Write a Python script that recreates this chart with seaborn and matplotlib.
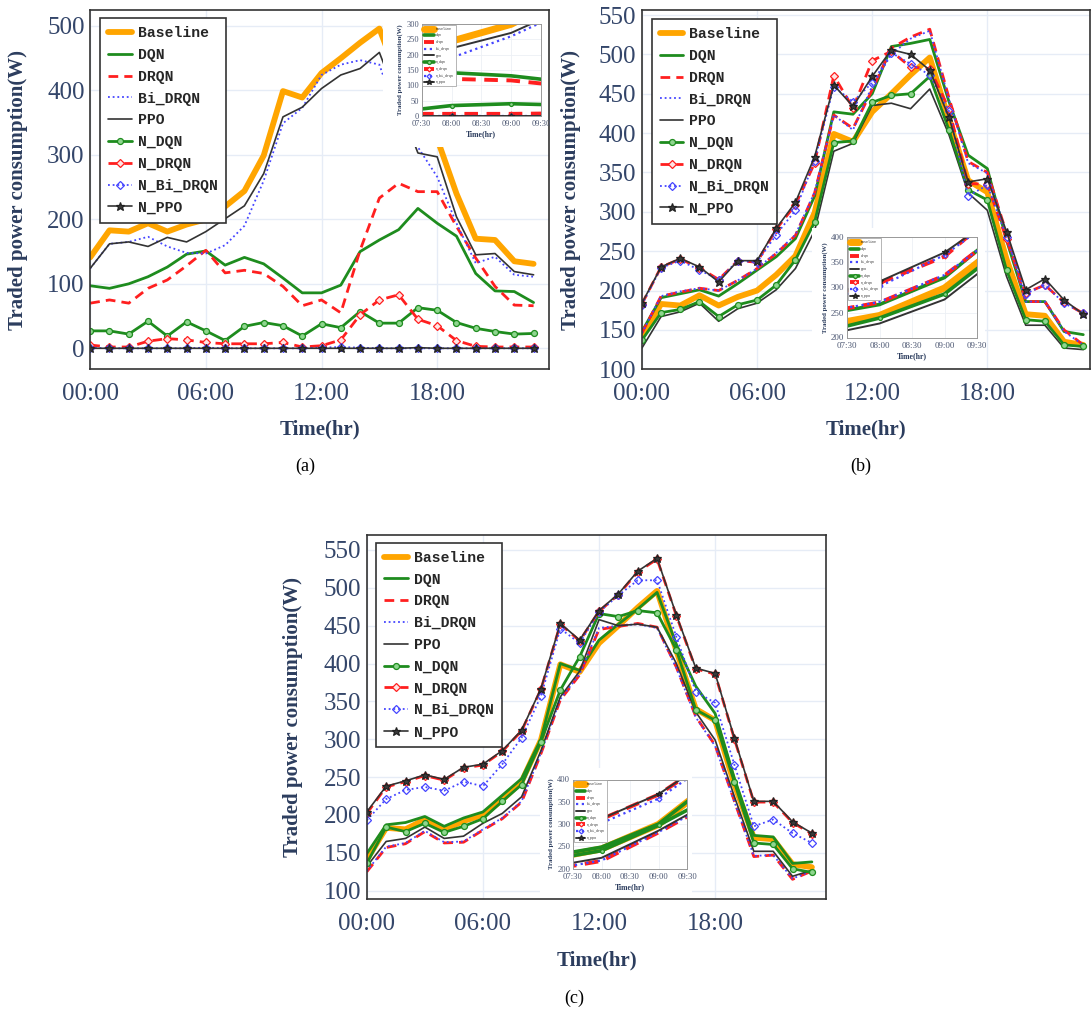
import matplotlib
matplotlib.use("Agg")
import matplotlib.pyplot as plt
import seaborn as sns
from matplotlib.patches import Rectangle
from matplotlib.font_manager import FontProperties

# ---------------- data ----------------
HOURS = list(range(24))
X_TICKS = [0, 6, 12, 18]
X_TICK_LABELS = ["00:00", "06:00", "12:00", "18:00"]
INSET_TICKS = [7.5, 8, 8.5, 9, 9.5]
INSET_TICK_LABELS = ["07:30", "08:00", "08:30", "09:00", "09:30"]
SERIES = ["Baseline", "DQN", "DRQN", "Bi_DRQN", "PPO", "N_DQN", "N_DRQN", "N_Bi_DRQN", "N_PPO"]
INSET_LABELS = ["Baseline", "dqn", "drqn", "bi_drqn", "ppo", "n_dqn", "n_drqn", "n_bi_drqn", "n_ppo"]

BASELINE = [141, 183, 181, 194, 181, 192, 200, 220, 244, 299, 399, 389, 427, 450, 474, 496, 417, 340, 325, 240, 170, 168, 135, 131]

# panel (a)
A_DQN = [97, 93, 100, 111, 126, 146, 151, 129, 141, 131, 109, 86, 86, 98, 150, 168, 184, 217, 194, 174, 116, 89, 88, 71]
A_DRQN = [70, 75, 70, 93, 106, 128, 152, 117, 121, 116, 96, 66, 75, 55, 152, 233, 256, 243, 243, 189, 140, 96, 67, 66]
A_BI_DRQN = [124, 162, 165, 173, 158, 148, 147, 160, 190, 260, 349, 373, 424, 440, 447, 440, 355, 312, 266, 194, 132, 142, 114, 111]
A_PPO = [124, 162, 165, 158, 172, 165, 181, 201, 221, 271, 359, 374, 403, 424, 434, 459, 381, 303, 297, 204, 145, 147, 119, 114]
A_N_DQN = [27, 27, 22, 42, 19, 41, 27, 12, 34, 40, 35, 19, 38, 32, 57, 39, 39, 63, 59, 40, 31, 26, 22, 23]
A_N_DRQN = [5, 2, 2, 11, 15, 13, 9, 7, 7, 7, 9, 2, 4, 13, 52, 75, 83, 45, 35, 12, 3, 2, 2, 2]
A_N_BI_DRQN = [1, 0, 0, 0, 0, 0, 1, 0, 0, 0, 0, 0, 1, 2, 1, 0, 0, 0, 0, 0, 0, 0, 0, 0]
A_N_PPO = [0, 0, 0, 0, 0, 0, 0, 0, 0, 0, 0, 0, 0, 0, 0, 0, 0, 1, 0, 0, 0, 0, 0, 0]

# panel (b)
B_DQN = [148, 191, 196, 201, 193, 209, 226, 243, 266, 320, 427, 424, 450, 510, 514, 519, 440, 372, 355, 264, 186, 186, 148, 144]
B_DRQN = [146, 193, 198, 203, 200, 213, 228, 247, 270, 324, 423, 406, 455, 508, 522, 532, 445, 364, 350, 273, 186, 186, 150, 131]
B_BI_DRQN = [146, 193, 199, 203, 200, 213, 228, 248, 271, 325, 423, 404, 460, 500, 520, 530, 443, 362, 349, 272, 186, 186, 148, 131]
B_PPO = [127, 167, 173, 184, 161, 177, 184, 201, 228, 276, 377, 387, 435, 438, 431, 456, 398, 324, 302, 218, 156, 156, 127, 125]
B_N_DQN = [137, 172, 176, 186, 167, 182, 188, 207, 239, 287, 388, 390, 439, 448, 450, 472, 404, 328, 315, 226, 163, 161, 131, 129]
B_N_DRQN = [183, 230, 240, 229, 214, 238, 236, 278, 309, 362, 473, 432, 492, 504, 484, 482, 431, 336, 335, 265, 197, 207, 185, 171]
B_N_BI_DRQN = [182, 229, 238, 226, 214, 238, 236, 271, 302, 365, 459, 440, 464, 502, 488, 474, 428, 320, 334, 268, 196, 207, 184, 171]
B_N_PPO = [184, 230, 241, 230, 211, 238, 238, 279, 312, 370, 461, 434, 472, 506, 500, 480, 420, 338, 342, 275, 201, 215, 188, 170]

# panel (c)
C_DQN = [149, 187, 190, 198, 185, 196, 204, 226, 248, 300, 400, 391, 431, 452, 472, 494, 425, 370, 334, 248, 173, 171, 136, 138]
C_DRQN = [125, 157, 162, 178, 163, 164, 180, 195, 217, 281, 352, 385, 445, 449, 453, 448, 395, 330, 292, 218, 145, 147, 115, 126]
C_BI_DRQN = [126, 158, 163, 179, 164, 165, 181, 196, 218, 282, 353, 386, 447, 450, 452, 447, 394, 329, 291, 217, 146, 147, 116, 126]
C_PPO = [132, 165, 169, 184, 169, 172, 189, 202, 224, 285, 356, 390, 458, 450, 452, 448, 400, 336, 299, 224, 152, 152, 119, 127]
C_N_DQN = [136, 184, 178, 189, 177, 185, 195, 218, 240, 297, 365, 409, 466, 462, 470, 467, 418, 339, 325, 243, 163, 161, 129, 124]
C_N_DRQN = [202, 237, 244, 252, 246, 262, 266, 284, 311, 366, 452, 430, 469, 491, 521, 538, 463, 393, 386, 300, 217, 217, 190, 175]
C_N_BI_DRQN = [193, 221, 233, 237, 232, 244, 238, 267, 302, 357, 446, 427, 468, 490, 510, 510, 435, 363, 348, 266, 185, 194, 176, 163]
C_N_PPO = [204, 238, 245, 253, 247, 263, 267, 285, 312, 367, 453, 431, 470, 492, 522, 539, 464, 394, 387, 301, 218, 218, 191, 176]

A_Y_TICKS = [0, 100, 200, 300, 400, 500]
BC_Y_TICKS = [100, 150, 200, 250, 300, 350, 400, 450, 500, 550]
A_INSET_Y_TICKS = [0, 50, 100, 150, 200, 250, 300]
BC_INSET_Y_TICKS = [200, 250, 300, 350, 400]

# ---------------- style ----------------
sns.set_theme(style="white")
plt.rcParams["font.family"] = ["Liberation Serif", "DejaVu Serif"]

W, H = 1091, 1017
TICK_COLOR = "#34466a"
LABEL_COLOR = "#2c3d5e"
GRID_COLOR = "#e6ecf6"
GREEN = "#1e8c1e"
RED = "#ff1f1f"
BLUE = "#4545ff"
DARK = "#333333"

STYLE = {
    "Baseline": dict(color="#FFA500", lw=4.2, ils=5.0, ls="-"),
    "DQN": dict(color=GREEN, lw=2.0, ils=2.6, ls="-"),
    "DRQN": dict(color=RED, lw=2.0, ils=2.8, ls=(0, (3.5, 2.2))),
    "Bi_DRQN": dict(color=BLUE, lw=1.3, ils=1.6, ls=(0, (1, 1.6))),
    "PPO": dict(color=DARK, lw=1.2, ils=1.4, ls="-"),
    "N_DQN": dict(color=GREEN, lw=2.0, ils=2.6, ls="-", marker="o", ms=4.3, mfc="#8fd68f", mec=GREEN),
    "N_DRQN": dict(color=RED, lw=2.0, ils=2.8, ls=(0, (3.5, 2.2)), marker="D", ms=3.8, mfc="#ffe4e4", mec=RED),
    "N_Bi_DRQN": dict(color=BLUE, lw=1.3, ils=1.6, ls=(0, (1, 1.6)), marker="D", ms=3.8, mfc="none", mec=BLUE),
    "N_PPO": dict(color=DARK, lw=1.2, ils=1.4, ls="-", marker="*", ms=6.3, mfc="#3a3a3a", mec="#222222"),
}

fig = plt.figure(figsize=(W / 100, H / 100), dpi=100)


def fr(l, t, r, b):
    return [l / W, 1 - b / H, (r - l) / W, (b - t) / H]


def draw_lines(ax, series_values, labels, inset=False):
    for name, label, vals in zip(SERIES, labels, series_values):
        st = STYLE[name]
        kw = dict(color=st["color"], linewidth=st["ils"] if inset else st["lw"], linestyle=st["ls"])
        if "marker" in st:
            kw.update(marker=st["marker"], markersize=st["ms"] * (0.65 if inset else 1.0),
                      markerfacecolor=st["mfc"], markeredgecolor=st["mec"], markeredgewidth=0.9)
        sns.lineplot(x=HOURS, y=vals, ax=ax, label=label, errorbar=None, sort=False, **kw)


def panel(series_values, box, xmax, ylim, yticks, ylab_x, legend_box, inset_box, inset_ylim,
          inset_yticks, white_box, inset_fs, letter, letter_xy):
    ax = fig.add_axes(fr(*box))
    draw_lines(ax, series_values, SERIES)
    ax.set_xlim(0, xmax)
    ax.set_ylim(*ylim)
    ax.set_xticks(X_TICKS)
    ax.set_xticklabels(X_TICK_LABELS)
    ax.set_yticks(yticks)
    ax.tick_params(axis="both", length=0, labelsize=18, colors=TICK_COLOR)
    ax.tick_params(axis="x", pad=10)
    ax.tick_params(axis="y", pad=4)
    ax.grid(True, color=GRID_COLOR, linewidth=1.0)
    ax.set_axisbelow(True)
    for sp in ax.spines.values():
        sp.set_visible(True)
        sp.set_color("#333333")
        sp.set_linewidth(1.2)
    ax.set_xlabel("Time(hr)", fontsize=15, fontweight="bold", color=LABEL_COLOR)
    ax.set_ylabel("Traded power consumption(W)", fontsize=15, fontweight="bold", color=LABEL_COLOR)
    ax.yaxis.set_label_coords(ylab_x, 0.5)
    ax.xaxis.set_label_coords(0.5, -0.14)

    handles, labels = ax.get_legend_handles_labels()
    leg = ax.legend(handles, labels, loc="upper left",
                    bbox_to_anchor=(legend_box[0] / W, 1 - legend_box[1] / H),
                    bbox_transform=fig.transFigure, borderaxespad=0,
                    prop=FontProperties(family="Liberation Mono", weight="bold", size=10.6),
                    frameon=True, fancybox=False, framealpha=1, edgecolor="#333333",
                    handlelength=1.6, handletextpad=0.4, labelspacing=0.53, borderpad=0.55)
    leg.get_frame().set_linewidth(1.2)
    leg.set_zorder(6)

    # white backdrop of the pasted inset figure
    wl, wt, wr, wb = white_box
    ax.add_patch(Rectangle((wl / W, 1 - wb / H), (wr - wl) / W, (wb - wt) / H,
                           transform=fig.transFigure, facecolor="white", edgecolor="none", zorder=4))

    # inset
    ia = fig.add_axes(fr(*inset_box))
    ia.set_facecolor("white")
    draw_lines(ia, series_values, INSET_LABELS, inset=True)
    ia.set_xlim(7.5, 9.5)
    ia.set_ylim(*inset_ylim)
    ia.set_xticks(INSET_TICKS)
    ia.set_xticklabels(INSET_TICK_LABELS)
    ia.set_yticks(inset_yticks)
    ia.tick_params(axis="both", length=0, labelsize=inset_fs, colors="#4d5873")
    ia.tick_params(axis="x", pad=3.2)
    ia.tick_params(axis="y", pad=2.0)
    ia.grid(True, color="#edf0f5", linewidth=0.6)
    ia.set_axisbelow(True)
    for sp in ia.spines.values():
        sp.set_visible(True)
        sp.set_color("#999999")
        sp.set_linewidth(0.7)
    ia.set_xlabel("Time(hr)", fontsize=5.6, fontweight="bold", color=LABEL_COLOR, labelpad=1.5)
    ia.set_ylabel("Traded power consumption(W)", fontsize=4.9, fontweight="bold", color=LABEL_COLOR, labelpad=2)
    ih, il = ia.get_legend_handles_labels()
    ileg = ia.legend(ih, il, loc="upper left", borderaxespad=0.25,
                     prop=FontProperties(family="Liberation Mono", size=2.3),
                     frameon=True, fancybox=False, framealpha=1, edgecolor="#999999",
                     handlelength=3.0, handletextpad=0.6, labelspacing=0.85, borderpad=0.6)
    ileg.get_frame().set_linewidth(0.5)

    fig.text(letter_xy[0] / W, 1 - letter_xy[1] / H, letter, ha="center", va="center",
             fontsize=13, color="black", family=["Liberation Serif", "DejaVu Serif"])


panel([BASELINE, A_DQN, A_DRQN, A_BI_DRQN, A_PPO, A_N_DQN, A_N_DRQN, A_N_BI_DRQN, A_N_PPO],
      box=(90.2, 10, 549, 369.3), xmax=23.8, ylim=(-32.6, 524.8), yticks=A_Y_TICKS, ylab_x=-0.136,
      legend_box=(100, 18), inset_box=(421.7, 24, 541, 116), inset_ylim=(0, 300),
      inset_yticks=A_INSET_Y_TICKS, white_box=(383, 11, 548, 147), inset_fs=6.0,
      letter="(a)", letter_xy=(305, 466))

panel([BASELINE, B_DQN, B_DRQN, B_BI_DRQN, B_PPO, B_N_DQN, B_N_DRQN, B_N_BI_DRQN, B_N_PPO],
      box=(641.9, 10, 1090, 369.3), xmax=23.35, ylim=(100, 556.4), yticks=BC_Y_TICKS, ylab_x=-0.137,
      legend_box=(651.7, 19), inset_box=(847, 237.5, 977, 337.5), inset_ylim=(200, 400),
      inset_yticks=BC_INSET_Y_TICKS, white_box=(812, 228, 985, 368), inset_fs=6.5,
      letter="(b)", letter_xy=(861, 466))

panel([BASELINE, C_DQN, C_DRQN, C_BI_DRQN, C_PPO, C_N_DQN, C_N_DRQN, C_N_BI_DRQN, C_N_PPO],
      box=(366.8, 535, 826.4, 899.3), xmax=23.75, ylim=(88.6, 569.8), yticks=BC_Y_TICKS, ylab_x=-0.139,
      legend_box=(376.4, 542.7), inset_box=(573, 779.5, 687, 868.5), inset_ylim=(200, 400),
      inset_yticks=BC_INSET_Y_TICKS, white_box=(540, 768, 692, 898), inset_fs=6.2,
      letter="(c)", letter_xy=(574, 998))

fig.savefig("out.png", dpi=100, facecolor="white")
